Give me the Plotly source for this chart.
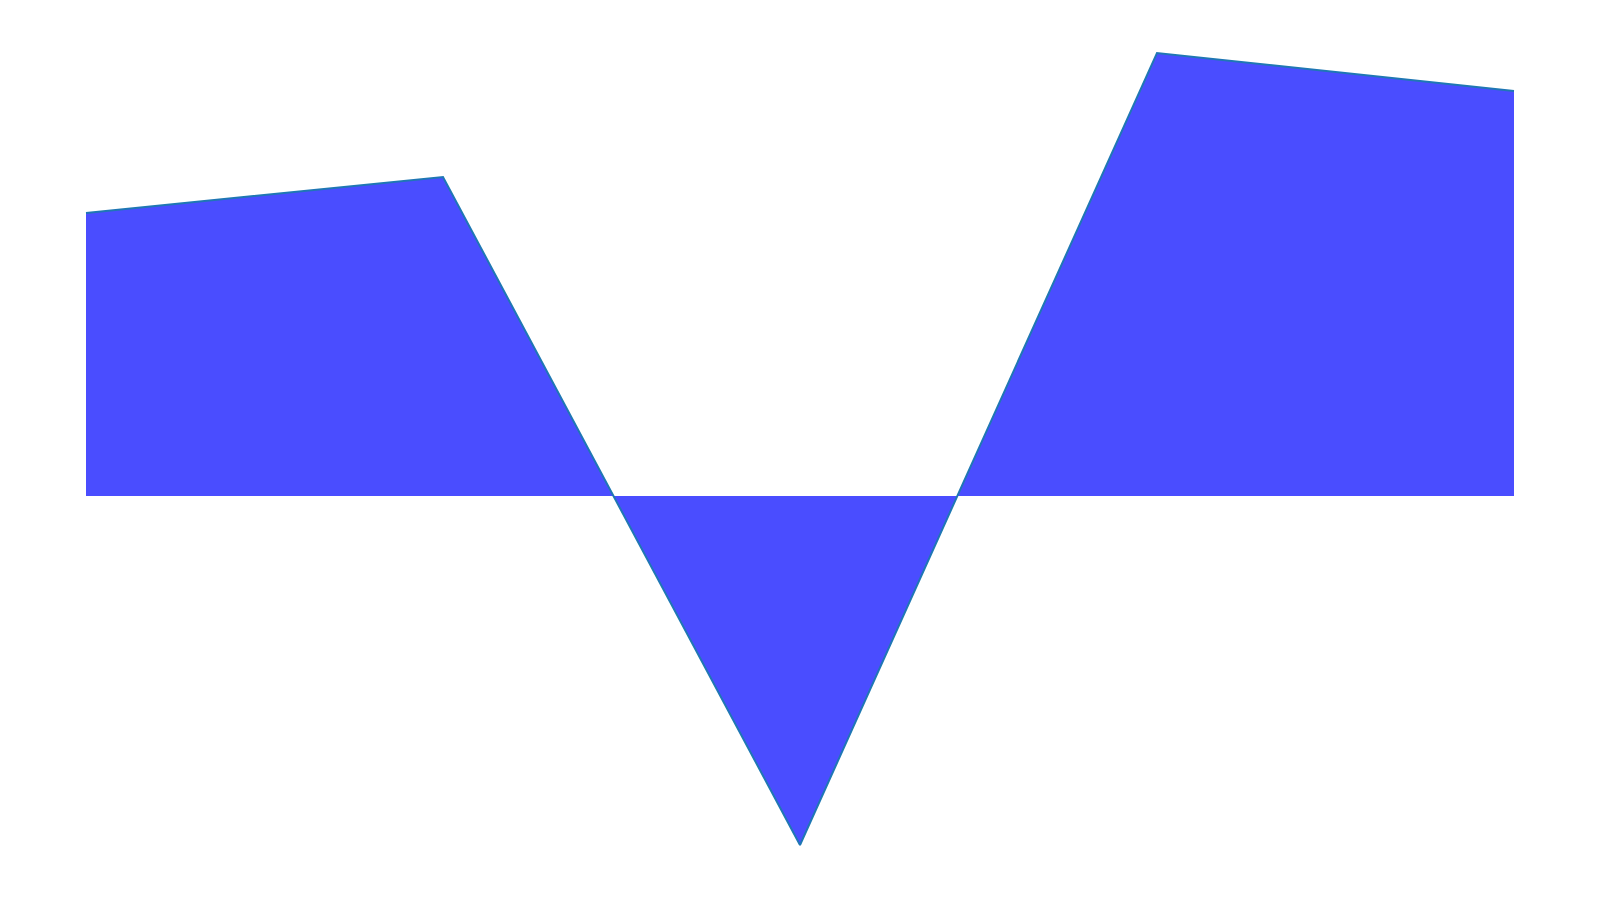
import plotly.graph_objects as go

categories = ["A", "B", "C", "D", "E"]
values = [283, 319, -349, 443, 405]

fig = go.Figure()
fig.add_trace(go.Scatter(
    x=list(range(len(categories))),
    y=values,
    mode="lines",
    fill="tozeroy",
    fillcolor="#4a4dff",
    line=dict(color="#1f77b4", width=2),
    hoverinfo="skip",
))

px_per_x = 357.0
x0 = 78.0
fig.update_layout(
    width=1600, height=900,
    margin=dict(l=0, r=0, t=0, b=0),
    paper_bgcolor="white", plot_bgcolor="white",
    showlegend=False,
    xaxis=dict(visible=False, range=[-x0 / px_per_x, (1600 - x0) / px_per_x]),
    yaxis=dict(visible=False, range=[-412, 488]),
)
fig.write_html("out.html")
